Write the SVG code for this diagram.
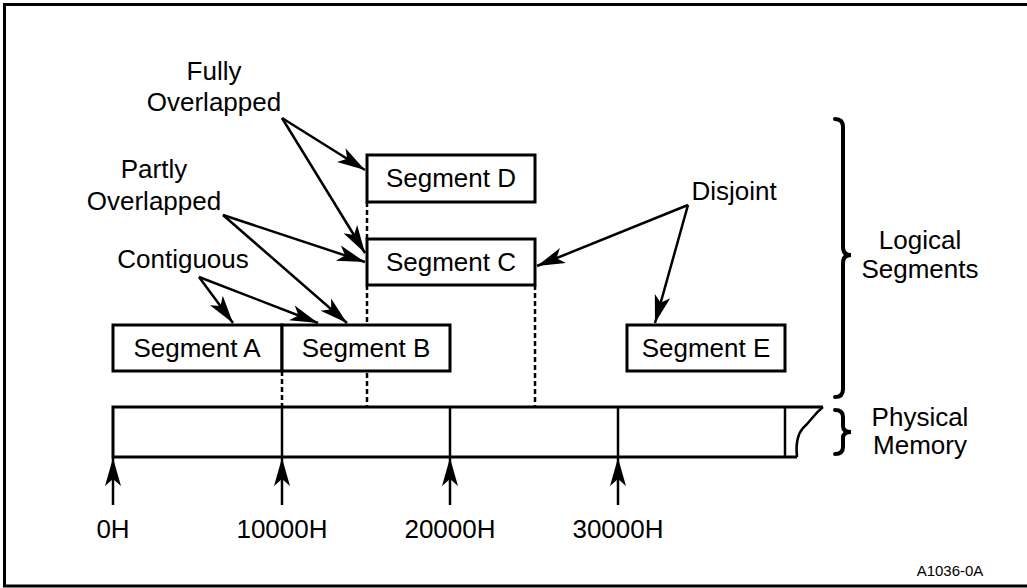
<svg xmlns="http://www.w3.org/2000/svg" width="1027" height="588" viewBox="0 0 1027 588">
<defs>
<marker id="ah" markerUnits="userSpaceOnUse" markerWidth="32" markerHeight="20" viewBox="-30 -9 32 18" refX="0" refY="0" orient="auto">
<path d="M0,0 L-28,-8 L-21,0 L-28,8 Z" fill="#000"/>
</marker>
</defs>
<style>
text{font-family:"Liberation Sans",Arial,sans-serif;font-size:26px;fill:#000;text-anchor:middle}
.box{fill:#fff;stroke:#000;stroke-width:3}
.ln{stroke:#000;stroke-width:2.5;fill:none}
.dash{stroke:#000;stroke-width:2.5;stroke-dasharray:5,3;fill:none}
.brace{stroke:#000;stroke-width:4;fill:none;stroke-linecap:round}
</style>
<rect width="1027" height="588" fill="#fff"/>
<path d="M1030,4.5 H4.5 V586 H1030" fill="none" stroke="#000" stroke-width="3"/>

<g id="connectors">
<line class="dash" x1="367" y1="202" x2="367" y2="239"/>
<line class="dash" x1="367" y1="285" x2="367" y2="407"/>
<line class="dash" x1="535" y1="285" x2="535" y2="407"/>
<line class="dash" x1="282" y1="371" x2="282" y2="407"/>
<line class="ln" x1="282" y1="118" x2="365" y2="170" marker-end="url(#ah)"/>
<line class="ln" x1="282" y1="118" x2="365" y2="253" marker-end="url(#ah)"/>
<line class="ln" x1="223" y1="215" x2="365" y2="262" marker-end="url(#ah)"/>
<line class="ln" x1="223" y1="215" x2="347" y2="323" marker-end="url(#ah)"/>
<line class="ln" x1="199" y1="277" x2="233" y2="323" marker-end="url(#ah)"/>
<line class="ln" x1="199" y1="277" x2="318" y2="323" marker-end="url(#ah)"/>
<line class="ln" x1="688" y1="205" x2="537" y2="266" marker-end="url(#ah)"/>
<line class="ln" x1="688" y1="205" x2="655" y2="323" marker-end="url(#ah)"/>
<line class="ln" x1="113" y1="505" x2="113" y2="458" marker-end="url(#ah)"/>
<line class="ln" x1="282" y1="505" x2="282" y2="458" marker-end="url(#ah)"/>
<line class="ln" x1="450" y1="505" x2="450" y2="458" marker-end="url(#ah)"/>
<line class="ln" x1="618" y1="505" x2="618" y2="458" marker-end="url(#ah)"/>
</g>

<g id="segD"><rect class="box" x="367" y="155" width="168" height="47"/><text x="451" y="187">Segment D</text></g>
<g id="segC"><rect class="box" x="367" y="239" width="168" height="46"/><text x="451" y="271">Segment C</text></g>
<g id="segA"><rect class="box" x="113" y="325" width="169" height="46"/><text x="197" y="357">Segment A</text></g>
<g id="segB"><rect class="box" x="282" y="325" width="168" height="46"/><text x="366" y="357">Segment B</text></g>
<g id="segE"><rect class="box" x="627" y="325" width="158" height="46"/><text x="706" y="357">Segment E</text></g>

<g id="memory">
<path d="M797,457 H113 V407 H823" fill="none" stroke="#000" stroke-width="3"/>
<path d="M823,407 C812,416 812,420 803,428 C796,436 796,448 797,457" fill="none" stroke="#000" stroke-width="2.5"/>
<line class="ln" x1="282" y1="407" x2="282" y2="457" stroke-width="3"/>
<line class="ln" x1="450" y1="407" x2="450" y2="457" stroke-width="3"/>
<line class="ln" x1="618" y1="407" x2="618" y2="457" stroke-width="3"/>
<line class="ln" x1="785" y1="407" x2="785" y2="457" stroke-width="3"/>
</g>

<g id="labels">
<text x="214" y="80">Fully</text>
<text x="214" y="111">Overlapped</text>
<text x="154" y="178">Partly</text>
<text x="154" y="210">Overlapped</text>
<text x="183" y="268">Contiguous</text>
<text x="734" y="200">Disjoint</text>
<text x="920" y="249">Logical</text>
<text x="920" y="278">Segments</text>
<text x="920" y="426">Physical</text>
<text x="920" y="454">Memory</text>
<text x="113" y="538">0H</text>
<text x="282" y="538">10000H</text>
<text x="450" y="538">20000H</text>
<text x="618" y="538">30000H</text>
<text x="950" y="576" style="font-size:15px">A1036-0A</text>
</g>

<g id="braces">
<path class="brace" d="M835,119 Q843,119 843,127 L843,247 Q843,255 851,255 Q843,255 843,263 L843,389 Q843,397 835,397"/>
<path class="brace" d="M835,410 Q843,410 843,417 L843,426 Q843,432 851,432 Q843,432 843,438 L843,447 Q843,454 835,454"/>
</g>
</svg>
